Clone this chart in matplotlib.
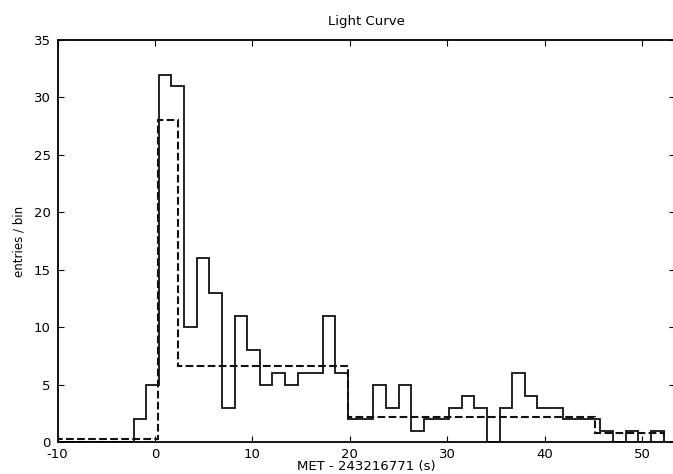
import numpy as np
import matplotlib
matplotlib.use("Agg")
import matplotlib.pyplot as plt

plt.rcParams.update({
    'font.family': 'DejaVu Sans',
    'font.size': 9,
    'axes.unicode_minus': False,
    'xtick.direction': 'in',
    'ytick.direction': 'in',
    'xtick.top': True,
    'ytick.right': True,
    'xtick.major.size': 4,
    'ytick.major.size': 4,
})

# binned counts (first bin edge and width)
bin_start = -9.97
bin_width = 1.295
counts = [0, 0, 0, 0, 0, 0,
          2, 5, 32, 31, 10, 16, 13, 3, 11, 8,
          5, 6, 5, 6, 6, 11, 6, 2, 2, 5,
          3, 5, 1, 2, 2, 3, 4, 3, 0, 3,
          6, 4, 3, 3, 2, 2, 2, 1, 0, 1,
          0, 1]
edges = bin_start + bin_width * np.arange(len(counts) + 1)

# bayesian-block style rate (dashed)
block_edges = [-10.0, 0.3, 2.35, 19.8, 45.2, 52.2]
block_rates = [0.3, 28.0, 6.6, 2.2, 0.75]

fig = plt.figure(figsize=(6.73, 4.74), dpi=100)
ax = fig.add_axes([0.0855, 0.0675, 0.918, 0.848])

ax.stairs(counts, edges, color='#111111', linewidth=1.3)
ax.stairs(block_rates, block_edges, color='#111111', linewidth=1.5, linestyle='--')

ax.set_xlim(-10, 53.4)
ax.set_ylim(0, 35)
ax.set_xticks(np.arange(-10, 51, 10))
ax.set_yticks(np.arange(0, 36, 5))
ax.tick_params(axis='x', labelsize=9.5, pad=4)
ax.tick_params(axis='y', labelsize=9.5, pad=5)

ax.set_title('Light Curve', fontsize=9.5, y=1.045, va='center', pad=0)
ax.set_xlabel('MET - 243216771 (s)', fontsize=9.5)
ax.set_ylabel('entries / bin', fontsize=8.5)
ax.xaxis.set_label_coords(0.5, -0.06)
ax.xaxis.label.set_va('center')
ax.yaxis.set_label_coords(-0.062, 0.5)
ax.yaxis.label.set_va('center')

for spine in ax.spines.values():
    spine.set_linewidth(1.3)

fig.savefig('out.png', dpi=100)
